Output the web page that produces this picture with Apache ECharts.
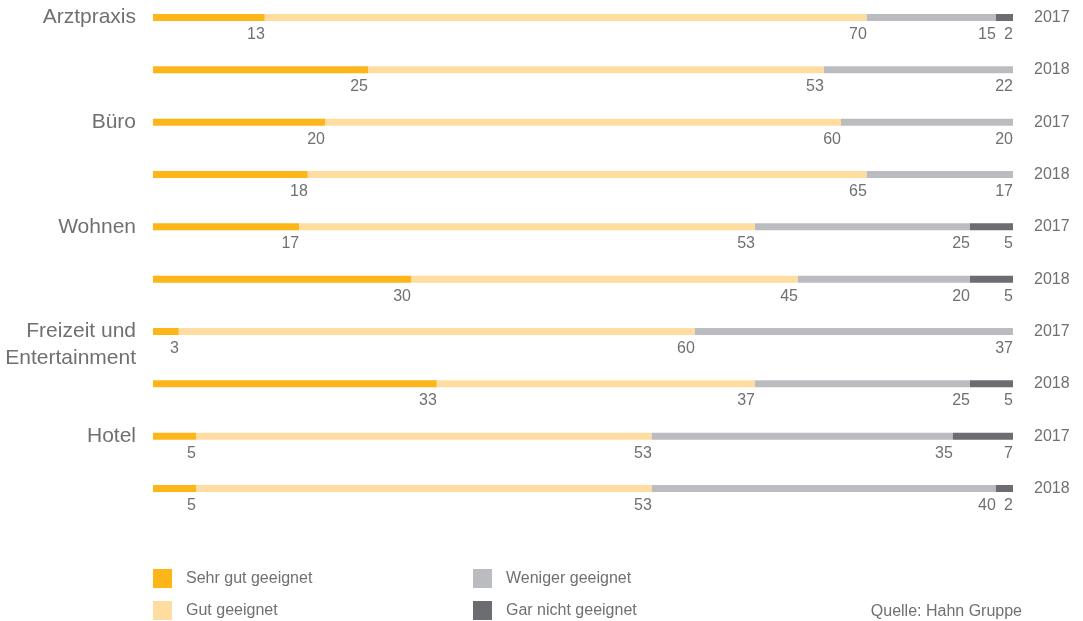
<!DOCTYPE html>
<html>
<head>
<meta charset="utf-8">
<script src="https://cdn.jsdelivr.net/npm/echarts@6/dist/echarts.min.js"></script>
<style>html,body{margin:0;padding:0;background:#fff}#c{width:1083px;height:621px}</style>
</head>
<body>
<div id="c"></div>
<script>
const groups = ['Arztpraxis', 'Büro', 'Wohnen', 'Freizeit und\nEntertainment', 'Hotel'];
const years = ['2017', '2018'];
const seriesNames = ['Sehr gut geeignet', 'Gut geeignet', 'Weniger geeignet', 'Gar nicht geeignet'];
const sehrGut = [13, 25, 20, 18, 17, 30, 3, 33, 5, 5];
const gut = [70, 53, 60, 65, 53, 45, 60, 37, 53, 53];
const weniger = [15, 22, 20, 17, 25, 20, 37, 25, 35, 40];
const garNicht = [2, 0, 0, 0, 5, 5, 0, 5, 7, 2];
const colors = ['#FDB517', '#FFDDA1', '#BBBCC0', '#6C6D71'];
const source = 'Quelle: Hahn Gruppe';

const rows = [];
groups.forEach(g => years.forEach(y => rows.push(g + '|' + y)));
const values = [sehrGut, gut, weniger, garNicht];
const textColor = '#6F7073';
const FONT = 'Liberation Sans';

const legendPos = [[153, 569], [153, 601], [473, 569], [473, 601]];

const chart = echarts.init(document.getElementById('c'));
chart.setOption({
  animation: false,
  textStyle: { fontFamily: FONT },
  grid: { left: 153, right: 70, top: 17.5, height: 471, containLabel: false },
  xAxis: { type: 'value', min: 0, max: 100, show: false },
  yAxis: [{
    type: 'category', inverse: true, data: rows, boundaryGap: false,
    axisLine: { show: false }, axisTick: { show: false }, splitLine: { show: false },
    axisLabel: {
      margin: 17, fontSize: 21, lineHeight: 27, color: textColor, fontFamily: FONT,
      formatter: (v) => {
        const [g, y] = v.split('|');
        if (y !== years[0]) return '';
        return g.indexOf('\n') >= 0 ? '\n' + g : g;
      }
    }
  }, {
    type: 'category', inverse: true, data: rows, position: 'right', boundaryGap: false,
    axisLine: { show: false }, axisTick: { show: false }, splitLine: { show: false },
    axisLabel: {
      margin: 21, fontSize: 16, color: textColor, fontFamily: FONT,
      formatter: (v) => v.split('|')[1]
    }
  }],
  legend: seriesNames.map((n, i) => ({
    orient: 'horizontal', left: legendPos[i][0], top: legendPos[i][1],
    itemWidth: 19, itemHeight: 19, padding: 0,
    icon: 'rect', data: [n],
    textStyle: { fontSize: 16, color: textColor, fontFamily: FONT, padding: [0, 0, 0, 9] }
  })),
  title: {
    text: source, right: 56, top: 599,
    textStyle: { fontSize: 16, fontWeight: 'normal', color: textColor, fontFamily: FONT }
  },
  series: seriesNames.map((n, i) => ({
    name: n, type: 'bar', stack: 'total', barWidth: 7, yAxisIndex: 0,
    itemStyle: { color: colors[i] },
    clip: false,
    label: {
      show: true, position: ['100%', 20.5], align: 'right', verticalAlign: 'middle',
      fontSize: 16, color: textColor, fontFamily: FONT,
      formatter: p => (p.value ? String(p.value) : '')
    },
    data: values[i]
  }))
});
</script>
</body>
</html>
